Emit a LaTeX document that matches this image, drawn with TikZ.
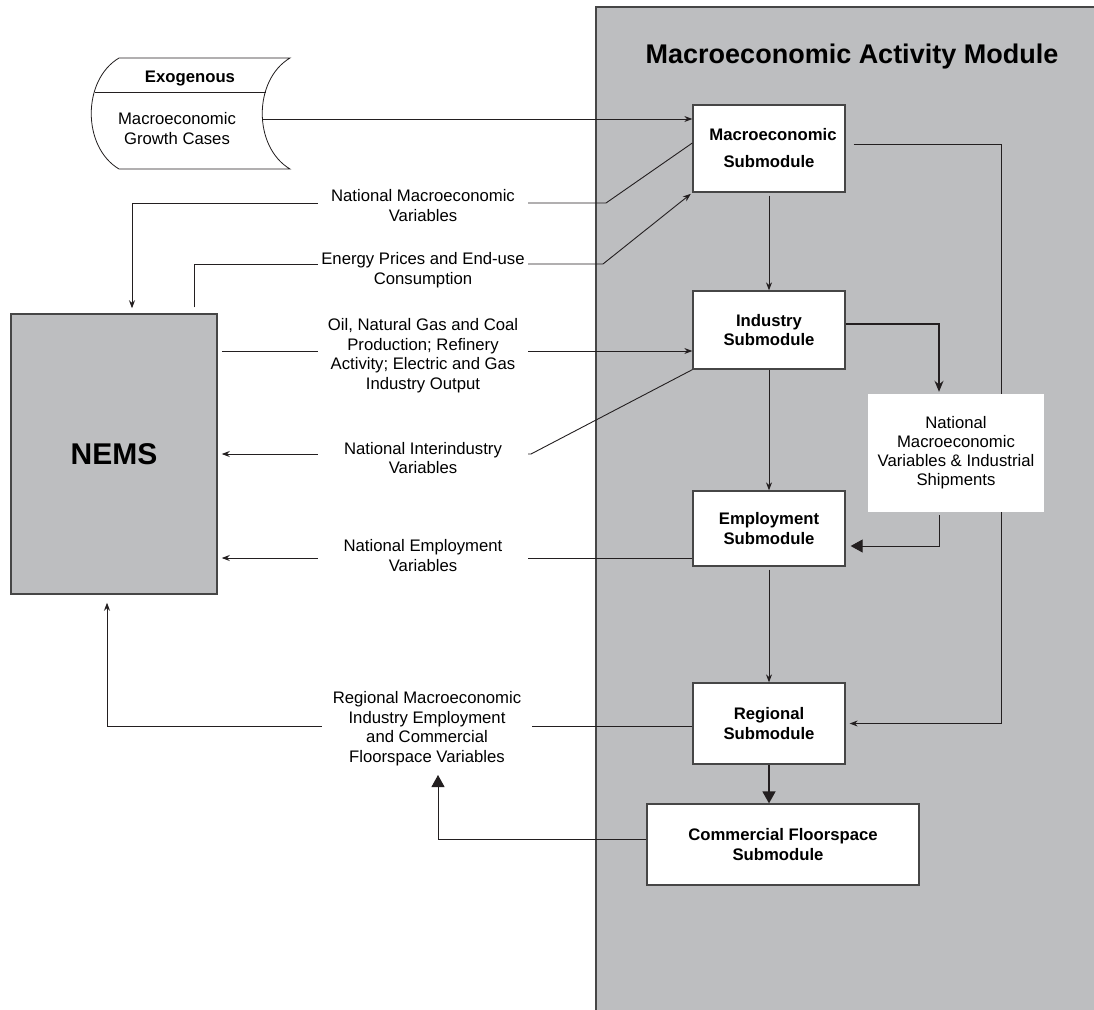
\documentclass[tikz,border=0pt]{standalone}
\usepackage{fontspec}
\setmainfont{Liberation Sans}
\usetikzlibrary{arrows.meta,calc}
\definecolor{gfill}{RGB}{189,190,192}
\definecolor{ink}{RGB}{35,31,32}
\definecolor{edgec}{RGB}{70,70,70}
\begin{document}
\begin{tikzpicture}[x=1pt,y=-1pt,
  conn/.style={draw=ink, line width=0.9pt},
  arr/.style={conn, -{Stealth[length=8pt,width=6pt]}},
  medarr/.style={conn, line width=1.4pt, -{Stealth[length=11pt,width=9pt]}},
  bigarr/.style={conn, -{Triangle[length=12pt,width=13pt]}},
  subbox/.style={draw=edgec, line width=1.3pt, fill=white, align=center, inner sep=0pt,
    font=\fontsize{16.7}{19.5}\selectfont\bfseries},
  lbl/.style={align=center, inner sep=0pt, minimum width=210pt,
    font=\fontsize{16.7}{19.5}\selectfont},
]
\useasboundingbox (0,0) rectangle (1094,1009);
\fill[white] (0,0) rectangle (1094,1009);

% module container
\node[fill=gfill, minimum width=520pt, minimum height=1020pt,
  anchor=north west, inner sep=0pt] (mod) at (596,7) {};
\draw[edgec, line width=1.5pt] (mod.south west) -- (mod.north west) -- (mod.north east);
\node[anchor=base, font=\fontsize{27}{30}\selectfont\bfseries] (title) at (852,63)
  {Macroeconomic Activity Module};

% submodules
\node[subbox, minimum width=152pt, minimum height=87pt] (mac) at (769,148.5)
  {\hspace*{8pt}Macroeconomic\\[7.5pt]Submodule};
\node[subbox, minimum width=152pt, minimum height=78pt] (ind) at (769,330)
  {Industry\\Submodule};
\node[subbox, minimum width=152pt, minimum height=75pt] (emp) at (769,528.5)
  {Employment\\Submodule};
\node[subbox, minimum width=152pt, minimum height=81pt] (reg) at (769,723.5)
  {Regional\\Submodule};
\node[subbox, minimum width=272pt, minimum height=81pt] (com) at (783,844.5)
  {Commercial Floorspace\\Submodule\hspace*{10pt}};

% right loop (behind the shipments box)
\coordinate (rx) at (1001,0);
\draw[arr, shorten <=8pt, shorten >=4pt] ([yshift=4.5pt]mac.east) -| (rx |- reg.east) -- (reg.east);

\node[fill=white, minimum width=176pt, minimum height=118pt, align=center, inner sep=0pt,
  font=\fontsize{16.7}{19}\selectfont] (ship) at (956,453)
  {National\\Macroeconomic\\Variables \& Industrial\\Shipments};

% NEMS
\node[draw=edgec, line width=1.5pt, fill=gfill, minimum width=206pt, minimum height=280pt,
  font=\fontsize{30}{32}\selectfont\bfseries] (nems) at (114,454) {NEMS};

% Exogenous
\draw[ink, line width=0.8pt] (119,58) -- (290,58) .. controls (253,80) and (253,147) .. (290,169)
  -- (119,169) .. controls (82,147) and (82,80) .. (119,58);
\draw[ink, line width=0.8pt] (94.5,92) -- (265.5,92);
\node[font=\fontsize{16.7}{19.5}\selectfont\bfseries] (exoT) at (190,79) {Exogenous};
\node[align=center, font=\fontsize{16.7}{19.5}\selectfont] (exo) at (177,128.5)
  {Macroeconomic\\Growth Cases};
\coordinate (exoR) at (263,119);

% labels
\node[lbl] (lNat) at (423,205.5) {National Macroeconomic\\Variables};
\node[lbl] (lEn) at (423,270) {Energy Prices and End-use\\Consumption};
\node[lbl] (lOil) at (423,355.5) {Oil, Natural Gas and Coal\\Production; Refinery\\Activity; Electric and Gas\\Industry Output};
\node[lbl] (lInt) at (423,458) {National Interindustry\\Variables};
\node[lbl] (lEmp) at (423,555.5) {National Employment\\Variables};
\node[lbl] (lReg) at (427,728.5) {Regional Macroeconomic\\Industry Employment\\and Commercial\\Floorspace Variables};

% connectors
\draw[arr] (exoR) -- (mac.west |- exoR);

\coordinate (b1) at (606,203);
\draw[conn] ([yshift=5.5pt]mac.west) -- (b1) -- (b1 -| lNat.east);
\draw[arr, shorten >=5pt] (b1 -| lNat.west) -| ([xshift=18pt]nems.north);

\coordinate (b2) at (603,264);
\draw[conn] ([xshift=80pt,yshift=6pt]nems.north) |- (b2 -| lEn.west);
\draw[arr, shorten >=2pt] (b2 -| lEn.east) -- (b2) -- (mac.south west);

\coordinate (b3) at (221,351);
\draw[conn, shorten <=4pt] (nems.east |- b3) -- (lOil.west |- b3);
\draw[arr] (lOil.east |- b3) -- (ind.west |- b3);

\coordinate (b4) at (531,454);
\draw[conn] (ind.south west) -- (b4) -- (lInt.east |- b4);
\draw[arr, shorten >=4pt] (lInt.west |- b4) -- (nems.east |- b4);

\coordinate (b5) at (0,558);
\draw[conn] (emp.west |- b5) -- (lEmp.east |- b5);
\draw[arr, shorten >=4pt] (lEmp.west |- b5) -- (nems.east |- b5);

\coordinate (b6) at (0,726);
\draw[conn] (reg.west |- b6) -- (lReg.east |- b6);
\draw[arr, shorten >=8pt] (lReg.west |- b6) -| ([xshift=-7pt]nems.south);

\coordinate (b7) at (0,839);
\coordinate (regTip) at (438,775);
\draw[bigarr] (com.west |- b7) -| (regTip);

\draw[arr, shorten <=3pt] (mac.south) -- (ind.north);
\draw[arr] (ind.south) -- (emp.north);
\draw[arr, shorten <=3pt] (emp.south) -- (reg.north);
\draw[bigarr, line width=1.6pt] (reg.south) -- (com.north -| reg.south);

\draw[medarr, shorten >=2pt] ([yshift=6pt]ind.east) -| ([xshift=-17pt]ship.north);
\draw[bigarr, shorten <=3pt, shorten >=5pt] ([xshift=-17pt]ship.south) |- ([yshift=-17.5pt]emp.east);
\end{tikzpicture}
\end{document}
